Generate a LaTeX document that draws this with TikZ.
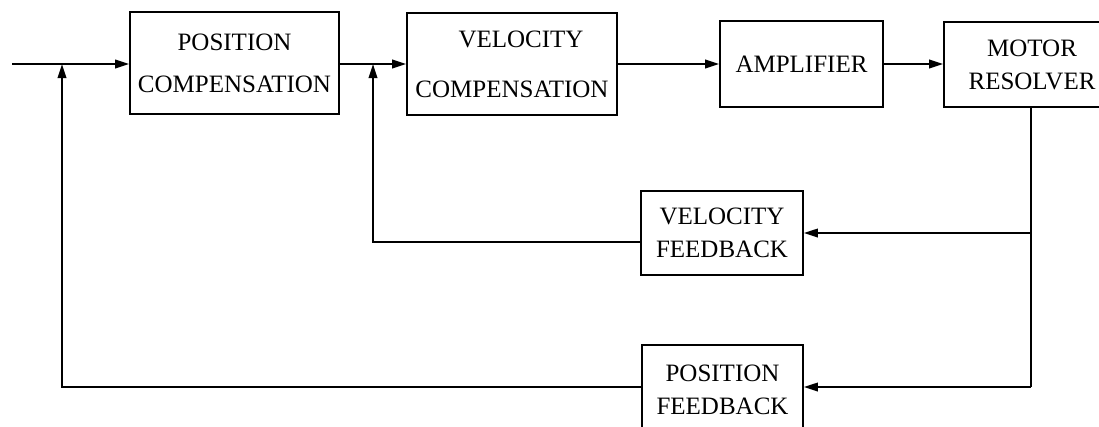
\documentclass[tikz,border=0pt]{standalone}
\usepackage{fontspec}
\setmainfont{Liberation Serif}
\usetikzlibrary{arrows.meta}
\begin{document}
\begin{tikzpicture}[x=1pt,y=1pt,
  blk/.style={draw, line width=1.7pt, inner sep=0pt, align=center,
              font=\fontsize{25}{33}\selectfont},
  sig/.style={-{Triangle[length=14pt,width=8.5pt]}, line width=1.9pt},
  wire/.style={line width=1.9pt}]
\useasboundingbox (0,0) rectangle (1099,-426);
\clip (0,0) rectangle (1099,-426);
\fill[white] (0,0) rectangle (1099,-426);

% forward path blocks
\node[blk, minimum width=209pt, minimum height=102pt] (pc) at (234.5,-63)
  {POSITION\\[9pt]COMPENSATION};
\node[blk, minimum width=210pt, minimum height=102pt] (vc) at (512,-64)
  {\hspace*{18pt}VELOCITY\\[17pt]COMPENSATION};
\node[blk, minimum width=163pt, minimum height=86pt] (amp) at (801.5,-64)
  {AMPLIFIER};
\node[blk, minimum width=176pt, minimum height=85pt] (mr) at (1032,-64.5)
  {MOTOR\\RESOLVER};

% feedback blocks
\node[blk, minimum width=162pt, minimum height=84pt] (vf) at (722,-233)
  {VELOCITY\\FEEDBACK};
\node[blk, minimum width=161pt, minimum height=90pt] (pf) at (722.5,-390)
  {POSITION\\FEEDBACK};

% junction and routing points
\coordinate (in) at (12,-64);
\coordinate (j1) at (62,-64);
\coordinate (j2) at (373,-64);
\coordinate (t1) at (1031,-233);
\coordinate (t2) at (1031,-387);
\coordinate (v1) at (373,-242);
\coordinate (p1) at (62,-387);

% forward path
\draw[sig] (in) -- (pc.west |- in);
\draw[sig] (pc.east |- j2) -- (vc.west |- j2);
\draw[sig] (vc.east) -- (amp.west);
\draw[sig] (amp.east) -- (mr.west |- amp.east);

% take-off from the motor resolver
\draw[wire] (mr.south -| t1) -- (t2);
\draw[sig] (t1) -- (vf.east);
\draw[sig] (t2) -- (pf.east |- t2);

% feedback returns to the summing points
\draw[sig] (vf.west |- v1) -- (v1) -- (j2);
\draw[sig] (pf.west |- p1) -- (p1) -- (j1);
\end{tikzpicture}
\end{document}
